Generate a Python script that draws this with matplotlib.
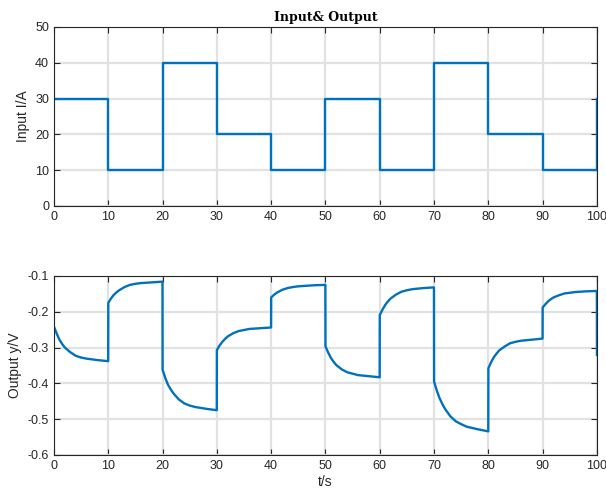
import matplotlib
matplotlib.use("Agg")
from matplotlib import pyplot as plt

# input steps (value held from each time until the next)
t_in = [0, 10, 20, 30, 40, 50, 60, 70, 80, 90, 100]
i_in = [30, 10, 40, 20, 10, 30, 10, 40, 20, 10, 30]

# output, segment by segment
t_out = [0, 0.5, 1, 1.5, 2, 3, 4, 5, 6, 8, 9.98,
         10, 10.5, 11, 11.5, 12, 13, 14, 15, 16, 18, 19.98,
         20, 20.5, 21, 21.5, 22, 23, 24, 25, 26, 28, 29.98,
         30, 30.5, 31, 31.5, 32, 33, 34, 35, 36, 38, 39.98,
         40, 40.5, 41, 41.5, 42, 43, 44, 45, 46, 48, 49.98,
         50, 50.5, 51, 51.5, 52, 53, 54, 55, 56, 58, 59.98,
         60, 60.5, 61, 61.5, 62, 63, 64, 65, 66, 68, 69.98,
         70, 70.5, 71, 71.5, 72, 73, 74, 75, 76, 78, 79.98,
         80, 80.5, 81, 81.5, 82, 83, 84, 85, 86, 88, 89.98,
         90, 90.5, 91, 91.5, 92, 93, 94, 95, 96, 98, 99.98,
         100]
y_out = [-0.242, -0.261, -0.278, -0.290, -0.300, -0.313, -0.323, -0.328, -0.331, -0.335, -0.338,
         -0.175, -0.163, -0.153, -0.146, -0.140, -0.131, -0.125, -0.122, -0.120, -0.118, -0.116,
         -0.362, -0.385, -0.404, -0.417, -0.428, -0.445, -0.456, -0.462, -0.466, -0.471, -0.475,
         -0.307, -0.294, -0.284, -0.276, -0.269, -0.260, -0.254, -0.251, -0.248, -0.246, -0.244,
         -0.160, -0.153, -0.147, -0.143, -0.139, -0.134, -0.131, -0.129, -0.128, -0.126, -0.125,
         -0.297, -0.314, -0.329, -0.340, -0.349, -0.361, -0.369, -0.373, -0.377, -0.380, -0.383,
         -0.209, -0.194, -0.181, -0.171, -0.163, -0.152, -0.144, -0.140, -0.137, -0.134, -0.132,
         -0.395, -0.420, -0.441, -0.457, -0.471, -0.492, -0.506, -0.514, -0.521, -0.528, -0.534,
         -0.358, -0.341, -0.327, -0.317, -0.308, -0.297, -0.288, -0.284, -0.281, -0.278, -0.275,
         -0.188, -0.179, -0.171, -0.165, -0.160, -0.154, -0.149, -0.147, -0.145, -0.143, -0.142,
         -0.321]

x_ticks = [0, 10, 20, 30, 40, 50, 60, 70, 80, 90, 100]
top_yticks = [0, 10, 20, 30, 40, 50]
bot_yticks = [-0.6, -0.5, -0.4, -0.3, -0.2, -0.1]

plt.rcParams['font.family'] = ['Liberation Sans', 'DejaVu Sans']
blue = '#0072BD'
dark = '#262626'

fig = plt.figure(figsize=(6.06, 4.96), dpi=100)
ax1 = fig.add_axes([0.0891, 0.5847, 0.896, 0.361])
ax2 = fig.add_axes([0.0891, 0.0827, 0.896, 0.361])

ax1.step(t_in, i_in, where='post', color=blue, lw=1.7)
ax2.plot(t_out, y_out, color=blue, lw=1.7)

for ax in (ax1, ax2):
    ax.set_xlim(0, 100)
    ax.set_xticks(x_ticks)
    ax.grid(True, color='#e2e2e2', lw=1.6)
    ax.set_axisbelow(True)
    ax.tick_params(direction='in', length=4, width=0.8, colors=dark,
                   labelsize=9, top=True, right=True, labelcolor=dark)
    for s in ax.spines.values():
        s.set_color(dark)
        s.set_linewidth(0.8)

ax1.set_ylim(0, 50)
ax1.set_yticks(top_yticks)
ax1.set_ylabel('Input I/A', fontsize=10, color=dark)
ax1.set_title('Input& Output', fontsize=9, fontweight='bold',
              family='DejaVu Serif', pad=4)

ax2.set_ylim(-0.6, -0.1)
ax2.set_yticks(bot_yticks)
ax2.set_yticklabels(['-0.6', '-0.5', '-0.4', '-0.3', '-0.2', '-0.1'])
ax2.set_ylabel('Output y/V', fontsize=10, color=dark)
ax2.set_xlabel('t/s', fontsize=10, color=dark, labelpad=2)

fig.savefig('out.png', dpi=100)
